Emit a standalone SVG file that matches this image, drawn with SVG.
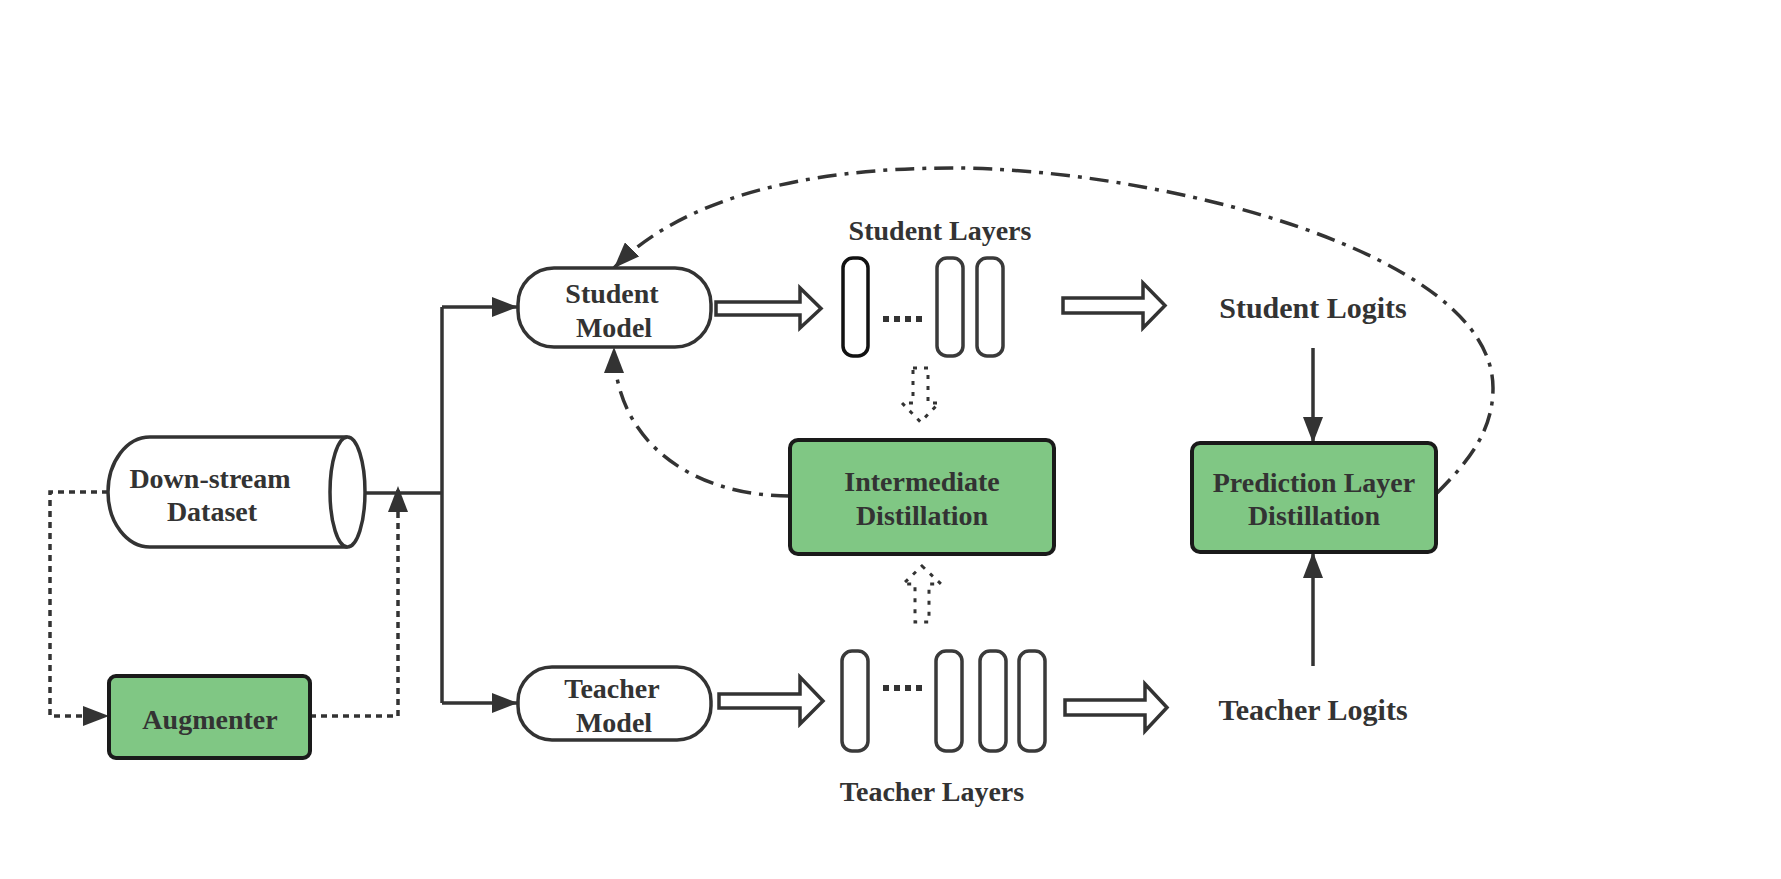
<svg xmlns="http://www.w3.org/2000/svg" width="1781" height="879" viewBox="0 0 1781 879">
<style>
text{font-family:"Liberation Serif","Times New Roman",serif;font-weight:bold;fill:#333;text-anchor:middle}
.t28{font-size:28px}
.t30{font-size:30px}
.ln{fill:none;stroke:#333;stroke-width:3.5}
.dot{fill:none;stroke:#333;stroke-width:3.5;stroke-dasharray:6 5}
.dd{fill:none;stroke:#333;stroke-width:3.5;stroke-dasharray:19 8 4 8}
.green{fill:#80C784;stroke:#1a1a1a;stroke-width:4}
.white{fill:#fff;stroke:#333;stroke-width:3.5}
.layer{fill:#fff;stroke:#3a3a3a;stroke-width:3.5}
.hollow{fill:#fff;stroke:#333;stroke-width:3.5;stroke-linejoin:miter}
.hdot{fill:none;stroke:#333;stroke-width:3;stroke-dasharray:4 7}
.dots{fill:none;stroke:#333;stroke-width:6;stroke-dasharray:6 5}
</style>
<defs>
<marker id="ah" viewBox="0 0 26 20" refX="26" refY="10" markerWidth="26" markerHeight="20" markerUnits="userSpaceOnUse" orient="auto"><path d="M0,0 L26,10 L0,20 z" fill="#333"/></marker>
</defs>
<rect width="1781" height="879" fill="#fff"/>

<g id="connectors">
<path class="ln" d="M366,493 H442"/>
<path class="ln" d="M442,307 V703"/>
<path class="ln" d="M442,307 H518" marker-end="url(#ah)"/>
<path class="ln" d="M442,703 H518" marker-end="url(#ah)"/>
<path class="dot" d="M108,492 H50 V716 H109" marker-end="url(#ah)"/>
<path class="dot" d="M310,716 H398 V486" marker-end="url(#ah)"/>
<path class="ln" d="M1313,348 V443" marker-end="url(#ah)"/>
<path class="ln" d="M1313,666 V552" marker-end="url(#ah)"/>
<path class="dd" d="M790,496 C690,496 614,440 614,347" marker-end="url(#ah)"/>
<path class="dd" d="M1437,493 C1470,460 1493,430 1493,388 C1493,250 1150,168 952,168 C800,168 680,200 614,268" marker-end="url(#ah)"/>
<polygon class="hollow" points="716,302 800,302 800,288 821,308.5 800,328 800,315 716,315"/>
<polygon class="hollow" points="719,694 800,694 800,677 823,701 800,724 800,708 719,708"/>
<polygon class="hollow" points="1063,298 1143,298 1143,283 1165,305.5 1143,328 1143,313 1063,313"/>
<polygon class="hollow" points="1065,700 1145,700 1145,684 1167,707.5 1145,731 1145,715 1065,715"/>
<polygon class="hdot" points="913,368 928,368 928,403 939,403 920.5,422 902,403 913,403"/>
<polygon class="hdot" points="922,566 941,584 929,584 929,622 915,622 915,584 903,584"/>
</g>

<g id="dataset">
<path class="white" d="M347.5,437 H150 A42,55 0 0 0 150,547 H347.5"/>
<ellipse class="white" cx="347.5" cy="492" rx="17.5" ry="55"/>
<text class="t28" x="210" y="488">Down-stream</text>
<text class="t28" x="212" y="521">Dataset</text>
</g>

<g id="augmenter">
<rect class="green" x="109" y="676" width="201" height="82" rx="7"/>
<text class="t28" x="210" y="729">Augmenter</text>
</g>

<g id="student-model">
<rect class="white" x="518" y="268" width="193" height="79" rx="36"/>
<text class="t28" x="612" y="303">Student</text>
<text class="t28" x="614" y="337">Model</text>
</g>

<g id="teacher-model">
<rect class="white" x="518" y="667" width="193" height="73" rx="34"/>
<text class="t28" x="612" y="698">Teacher</text>
<text class="t28" x="614" y="732">Model</text>
</g>

<g id="student-layers">
<text class="t28" x="940" y="240">Student Layers</text>
<rect x="843" y="258" width="25" height="98" rx="10" fill="#fff" stroke="#111" stroke-width="3.5"/>
<line class="dots" x1="883" y1="319" x2="923" y2="319"/>
<rect class="layer" x="937" y="258" width="26" height="98" rx="10"/>
<rect class="layer" x="977" y="258" width="26" height="98" rx="10"/>
</g>

<g id="teacher-layers">
<rect class="layer" x="842" y="651" width="26" height="100" rx="10"/>
<line class="dots" x1="883" y1="688" x2="923" y2="688"/>
<rect class="layer" x="936" y="651" width="26" height="100" rx="10"/>
<rect class="layer" x="980" y="651" width="26" height="100" rx="10"/>
<rect class="layer" x="1019" y="651" width="26" height="100" rx="10"/>
<text class="t28" x="932" y="801">Teacher Layers</text>
</g>

<g id="intermediate-distillation">
<rect class="green" x="790" y="440" width="264" height="114" rx="8"/>
<text class="t28" x="922" y="491">Intermediate</text>
<text class="t28" x="922" y="525">Distillation</text>
</g>

<g id="prediction-layer-distillation">
<rect class="green" x="1192" y="443" width="244" height="109" rx="8"/>
<text class="t28" x="1314" y="492">Prediction Layer</text>
<text class="t28" x="1314" y="525">Distillation</text>
</g>

<g id="student-logits">
<text class="t30" x="1313" y="318">Student Logits</text>
</g>

<g id="teacher-logits">
<text class="t30" x="1313" y="720">Teacher Logits</text>
</g>
</svg>
